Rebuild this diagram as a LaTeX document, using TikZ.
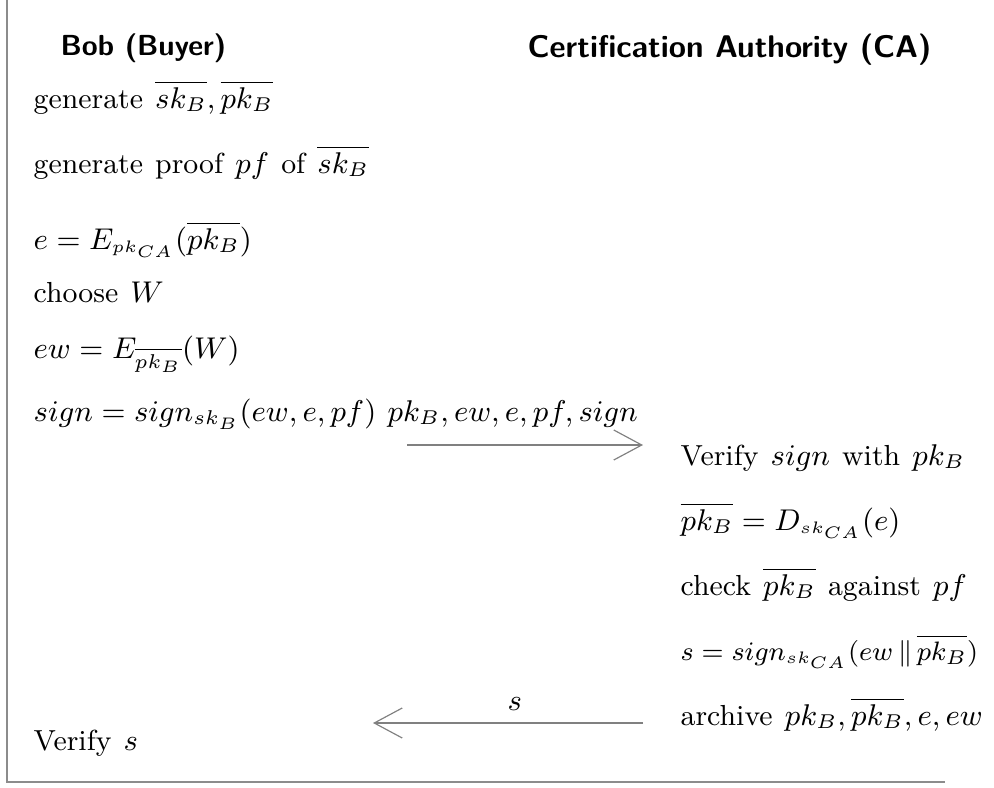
\documentclass[tikz,border=0pt]{standalone}
\usetikzlibrary{arrows.meta}
\newcommand\wgap{\hspace{0.42em}}
\begin{document}
\begin{tikzpicture}[x=0.3pt,y=-0.3pt,
  txt/.style={anchor=base west,inner sep=0pt,font=\fontsize{8.7}{10.5}\selectfont},
  lbl/.style={anchor=base west,inner sep=0pt,font=\fontsize{8.7}{10.5}\selectfont},
  msg/.style={draw=black!50,line width=0.35pt,-{Straight Barb[length=8.4pt,width=9pt,line width=0.35pt]}},
  framel/.style={draw=black!45,line width=0.5pt}]
\useasboundingbox (0,0) rectangle (994,788);
% frame
\coordinate (ftl) at (7,0);
\coordinate (fbl) at (7,782);
\coordinate (fbr) at (945,782);
\draw[framel] (ftl) -- (fbl) -- (fbr);
% headings
\node[anchor=base west,inner sep=0pt,font=\fontsize{8.7}{11}\selectfont\sffamily\bfseries] (bob) at (60,55) {Bob (Buyer)};
\node[anchor=base west,inner sep=0pt,font=\fontsize{9.4}{11}\selectfont\sffamily\bfseries] (ca) at (527,57) {Certification Authority (CA)};
% Bob's steps
\node[txt] (b1) at (33,108) {generate\wgap$\overline{sk_B},\overline{pk_B}$};
\node[txt] (b2) at (33,173) {generate\wgap proof\wgap$pf$\wgap of\wgap$\overline{sk_B}$};
\node[txt] (b3) at (33,249) {$e=E_{\scriptscriptstyle pk_{CA}}(\overline{pk_B})$};
\node[txt] (b4) at (33,302) {choose\wgap$W$};
\node[txt] (b5) at (33,358) {$ew=E_{\overline{pk_B}}(W)$};
\node[txt] (b6) at (33,421) {$sign=sign_{sk_B}(ew,e,pf)$};
\node[txt] (b7) at (33,750) {Verify\wgap$s$};
% CA's steps
\node[txt] (c1) at (680,465) {Verify\wgap$sign$\wgap with\wgap$pk_B$};
\node[txt] (c2) at (680,530) {$\overline{pk_B}=D_{\scriptscriptstyle sk_{CA}}(e)$};
\node[txt] (c3) at (680,595) {check\wgap$\overline{pk_B}$\wgap against\wgap$pf$};
\node[txt,font=\fontsize{8.3}{10}\selectfont] (c4) at (680,660) {$s=sign_{\scriptscriptstyle sk_{CA}}(ew\,\|\,\overline{pk_B})$};
\node[txt] (c5) at (680,725) {archive\wgap$pk_B,\overline{pk_B},e,ew$};
% messages
\coordinate (m1s) at (407,445);
\coordinate (m1e) at (643,445);
\draw[msg] (m1s) -- (m1e);
\node[lbl] (l1) at (387,421) {$pk_B,ew,e,pf,sign$};
\coordinate (m2s) at (643,723);
\coordinate (m2e) at (373,723);
\draw[msg] (m2s) -- (m2e);
\node[lbl] (l2) at (507,710) {$s$};
\end{tikzpicture}
\end{document}
